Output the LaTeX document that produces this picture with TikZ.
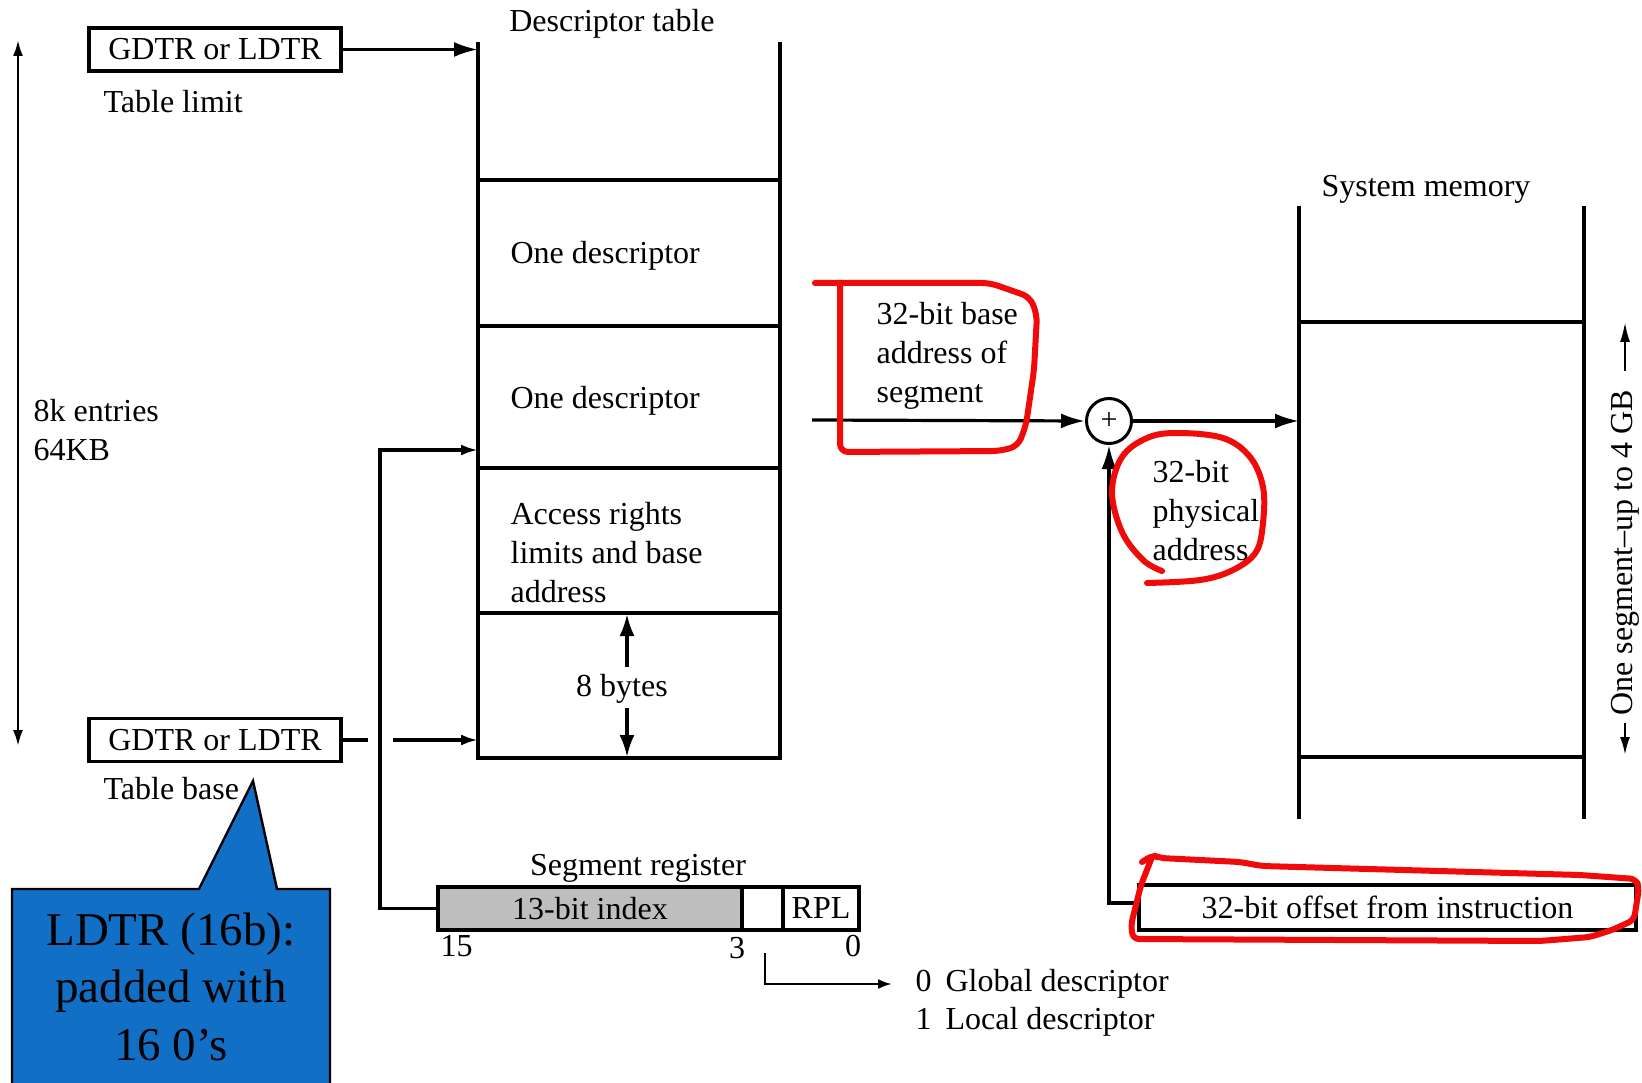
\documentclass[tikz,border=0pt]{standalone}
\usepackage{fontspec}
\setmainfont{Liberation Serif}
\usetikzlibrary{arrows.meta}
\definecolor{calloutblue}{RGB}{17,112,198}
\definecolor{indexgray}{RGB}{190,190,190}
\definecolor{inkred}{RGB}{240,10,10}
\newcommand\diafont{\fontsize{32}{39}\selectfont}
\newcommand\callfont{\fontsize{47}{57}\selectfont}
\begin{document}
\begin{tikzpicture}[x=1pt,y=-1pt,line width=3.2pt,
  txt/.style={font=\diafont,inner sep=0pt},
  regbox/.style={draw,line width=3.2pt,minimum height=43pt,inner sep=0pt,font=\diafont},
  bigarrow/.style={-{Latex[length=24pt,width=15pt]}},
  midarrow/.style={-{Latex[length=22pt,width=15pt]}},
  smallarrow/.style={-{Latex[length=17pt,width=11pt]}},
  tinyarrow/.style={-{Latex[length=14pt,width=10pt]}},
  inkmark/.style={draw=inkred,line width=6pt,line cap=round,line join=round},
]
\useasboundingbox (0,0) rectangle (1642,1083);
\fill[white] (0,0) rectangle (1642,1083);

% ---------- descriptor table ----------
\node[txt,anchor=base] (dtTitle) at (612,32) {Descriptor table};
\draw (478,42) -- (478,758) -- (780,758) -- (780,42);
\foreach \yy in {180,326,468,613} \draw (478,\yy) -- (780,\yy);
\node[txt,anchor=base west] (descA) at (509,264) {One descriptor};
\node[txt,anchor=base west] (descB) at (509,409) {One descriptor};
\node[txt,anchor=north west,align=left] (access) at (509,501)
  {Access rights\\limits and base\\address};
\node[txt,anchor=base] (eightB) at (622,696) {8 bytes};
\coordinate (rowTop) at (627,614);
\coordinate (rowBot) at (627,757);
\draw[midarrow] (627,667) -- (rowTop);
\draw[midarrow] (627,708) -- (rowBot);

% ---------- table registers ----------
\node[regbox,minimum width=252pt] (gdtrLimit) at (215,49.5) {GDTR or LDTR};
\node[txt,anchor=base west] (limitLbl) at (102,113) {Table limit};
\node[regbox,minimum width=252pt] (gdtrBase) at (215,740) {GDTR or LDTR};
\node[txt,anchor=base west] (baseLbl) at (102,799) {Table base};

\coordinate (tblLimitIn) at (478,49.5);
\coordinate (tblBaseIn) at (478,740);
\coordinate (stubEnd) at (368,740);
\coordinate (stubRestart) at (393,740);
\coordinate (tblIndexIn) at (478,450);
\draw[bigarrow] (gdtrLimit.east) -- (tblLimitIn);
\draw (gdtrBase.east) -- (stubEnd);
\draw[smallarrow] (stubRestart) -- (tblBaseIn);

% ---------- table span ----------
\coordinate (spanTop) at (18,40);
\coordinate (spanBot) at (18,746);
\draw[line width=2.4pt,{Latex[length=16pt,width=10pt]}-{Latex[length=16pt,width=10pt]}] (spanTop) -- (spanBot);
\node[txt,anchor=north west,align=left] (entries) at (32,398) {8k entries\\64KB};

% ---------- segment register ----------
\node[txt,anchor=base] (segTitle) at (638,875) {Segment register};
\node[regbox,fill=indexgray,minimum width=304pt] (segIdx) at (590,908.5) {13-bit index};
\node[regbox,minimum width=41pt] (segTI) at (762.5,908.5) {};
\node[regbox,minimum width=76pt] (segRPL) at (821,908.5) {RPL};
\node[txt,anchor=base west] (bit15) at (439,956) {15};
\node[txt,anchor=base] (bit3) at (737,958) {3};
\node[txt,anchor=base] (bit0) at (853,956) {0};
\draw[smallarrow] (segIdx.west) -- (380,908.5) |- (tblIndexIn);

\coordinate (tiStart) at (765,953);
\coordinate (tiEnd) at (892,984);
\draw[line width=2.6pt,tinyarrow] (tiStart) |- (tiEnd);
\node[txt,anchor=base west] (globalLbl) at (914,991) {0\hspace{14pt}Global descriptor};
\node[txt,anchor=base west] (localLbl) at (914,1029) {1\hspace{14pt}Local descriptor};

% ---------- adder ----------
\node[draw,circle,minimum size=45pt,inner sep=0pt,line width=3pt,
  font=\fontsize{30}{30}\selectfont] (adder) at (1109,421) {+};
\coordinate (baseOut) at (812,420);
\draw[bigarrow] (baseOut) -- (adder.west);
\node[txt,anchor=north west,align=left] (baseTxt) at (875,301)
  {32-bit base\\address of\\segment};
\node[txt,anchor=north west,align=left] (physTxt) at (1151,459)
  {32-bit\\physical\\address};

% ---------- system memory ----------
\node[txt,anchor=base] (memTitle) at (1426,197) {System memory};
\draw (1299,206) -- (1299,819);
\draw (1584,206) -- (1584,819);
\draw (1299,322) -- (1584,322);
\draw (1299,757) -- (1584,757);
\coordinate (memIn) at (1299,421);
\draw[bigarrow] (adder.east) -- (memIn);

\node[txt,rotate=90] (segSpan) at (1625,553) {One segment--up to 4 GB};
\coordinate (spanMemTop) at (1625,322);
\coordinate (spanMemBot) at (1625,755);
\draw[line width=2.4pt,-{Latex[length=20pt,width=10pt]},shorten <=18pt] (segSpan.east) -- (spanMemTop);
\draw[line width=2.4pt,-{Latex[length=18pt,width=10pt]},shorten <=6pt] (segSpan.west) -- (spanMemBot);

% ---------- offset ----------
\node[regbox,minimum width=497pt,minimum height=45pt] (offset) at (1387.5,907.5)
  {32-bit offset from instruction};
\draw[bigarrow] ([yshift=4.5pt]offset.west) -| (adder.south);

% ---------- callout ----------
\fill[calloutblue] (12,1090) -- (12,889) -- (199,889) -- (253,781) -- (277,889)
  -- (330,889) -- (330,1090) -- cycle;
\draw[line width=2.4pt,line join=miter] (12,1090) -- (12,889) -- (199,889) -- (253,781)
  -- (277,889) -- (330,889) -- (330,1090);
\node[inner sep=0pt,font=\callfont,anchor=base] (callA) at (171,945) {LDTR (16b):};
\node[inner sep=0pt,font=\callfont,anchor=base] (callB) at (171,1002) {padded with};
\node[inner sep=0pt,font=\callfont,anchor=base] (callC) at (171,1060) {16 0’s};

% ---------- hand-drawn marks ----------
\draw[inkmark,rounded corners=8pt] (815,283) -- (990,283) -- (1030,297) -- (1037,315)
  -- (1034,370) -- (1026,425) -- (1018,446) -- (1000,451) -- (840,452) -- (840,285);
\draw[inkmark] plot[smooth,tension=0.6] coordinates {(1162,571) (1143,560) (1122,532)
  (1112,492) (1122,457) (1147,438) (1177,433) (1223,438) (1250,457) (1263,487)
  (1263,523) (1256,552) (1233,570) (1200,580) (1147,583)};
\draw[inkmark,rounded corners=6pt] (1142,862) -- (1153,855) -- (1160,858) -- (1240,862)
  -- (1262,866) -- (1580,875) -- (1636,879) -- (1639,888) -- (1634,920) -- (1612,930)
  -- (1590,937) -- (1540,941) -- (1133,939) -- (1131,925) -- (1141,885) -- (1152,857);
\end{tikzpicture}
\end{document}
